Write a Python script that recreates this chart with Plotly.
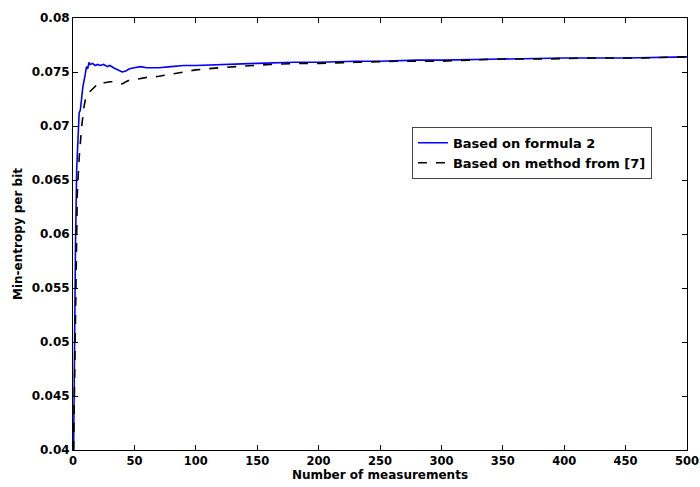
import plotly.graph_objects as go

blue_x = [0.5, 1, 2, 3, 4, 5, 6, 7, 8, 10, 11, 12, 13, 14, 16, 18, 20, 22, 25, 28, 30, 33, 36, 40, 43, 46, 50, 55, 60, 70, 80, 90, 100, 120, 150, 180, 200, 230, 250, 280, 300, 350, 400, 450, 480, 500]
blue_y = [0.040, 0.050, 0.0588, 0.066, 0.069, 0.0712, 0.0715, 0.0725, 0.0736, 0.0748, 0.0755, 0.0753, 0.0759, 0.0757, 0.0758, 0.0756, 0.0757, 0.0756, 0.0757, 0.0755, 0.0756, 0.0754, 0.0752, 0.0750, 0.0751, 0.0753, 0.0754, 0.0755, 0.0754, 0.0754, 0.0755, 0.0756, 0.0756, 0.0757, 0.0758, 0.0759, 0.0759, 0.0760, 0.0760, 0.0761, 0.0761, 0.0762, 0.0763, 0.0763, 0.0764, 0.0764]

black_x = [0.5, 1, 2, 3, 3.5, 5, 7, 9, 10.5, 13, 16.5, 20, 22, 26, 30, 35, 40, 45, 50, 55, 60, 70, 80, 90, 100, 120, 143, 160, 184, 200, 230, 265, 300, 346, 380, 427, 460, 500]
black_y = [0.040, 0.045, 0.052, 0.060, 0.0638, 0.067, 0.0699, 0.0718, 0.0727, 0.0731, 0.0735, 0.0739, 0.0741, 0.0740, 0.0741, 0.0741, 0.0739, 0.0742, 0.0743, 0.0744, 0.0745, 0.0746, 0.0748, 0.0750, 0.0752, 0.0754, 0.0756, 0.0757, 0.0758, 0.0758, 0.0759, 0.0760, 0.0760, 0.0762, 0.0762, 0.0763, 0.0763, 0.0764]

x_ticks = [0, 50, 100, 150, 200, 250, 300, 350, 400, 450, 500]
y_ticks = [0.04, 0.045, 0.05, 0.055, 0.06, 0.065, 0.07, 0.075, 0.08]
y_tick_labels = ["0.04", "0.045", "0.05", "0.055", "0.06", "0.065", "0.07", "0.075", "0.08"]

font_family = "DejaVu Sans, sans-serif"
fnt = dict(family=font_family, size=12, color="black")
xtick_fnt = dict(family=font_family, size=11.5, color="black")
legend_fnt = dict(family=font_family, size=13, color="black")

fig = go.Figure()
fig.add_trace(go.Scatter(x=blue_x, y=blue_y, mode="lines", name="<b>Based on formula 2</b>",
                         line=dict(color="#0000ff", width=1.6)))
fig.add_trace(go.Scatter(x=black_x, y=black_y, mode="lines", name="<b>Based on method from [7]</b>",
                         line=dict(color="#000000", width=1.6, dash="dash")))

axis_common = dict(showline=True, linecolor="black", linewidth=1, mirror="ticks",
                   ticks="inside", ticklen=5, tickcolor="black", showgrid=False, zeroline=False,
                   automargin=False, ticklabeloverflow="allow")

fig.update_layout(
    width=700, height=487,
    margin=dict(l=73, r=13, t=18, b=37),
    paper_bgcolor="white", plot_bgcolor="white",
    showlegend=True,
    legend=dict(x=0.552, y=0.748, xanchor="left", yanchor="top",
                bgcolor="white", bordercolor="#444", borderwidth=1,
                font=legend_fnt, tracegroupgap=0, itemwidth=30),
    xaxis=dict(range=[0, 500], tickvals=x_ticks, ticktext=["<b>%d</b>" % v for v in x_ticks],
               tickfont=xtick_fnt,
               title=dict(text="<b>Number of measurements</b>", standoff=1, font=fnt),
               **axis_common),
    yaxis=dict(range=[0.04, 0.08], tickvals=y_ticks, ticktext=["<b>%s</b>" % s for s in y_tick_labels],
               tickfont=fnt,
               title=dict(text="<b>Min-entropy per bit</b>", standoff=6, font=fnt),
               **axis_common),
)

fig.write_html("out.html")
